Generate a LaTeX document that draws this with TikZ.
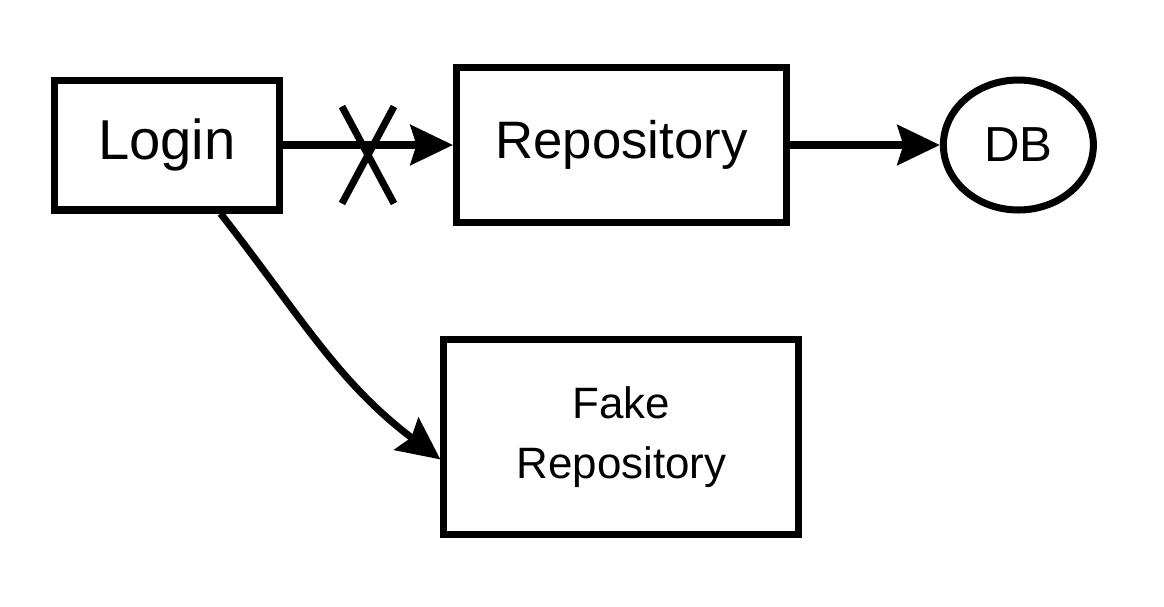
\documentclass[tikz,border=0pt]{standalone}
\usepackage{fontspec}
\setmainfont{Liberation Sans}
\usetikzlibrary{arrows,arrows.meta,positioning,shapes.geometric,shapes.misc}
\tikzset{node distance=3cm,
	box/.style={
		draw,
		line width=4pt,
		rectangle,
		align=center
	},
	dbnode/.style={
		draw,
		line width=4pt,
		ellipse,
		minimum width=3cm,
		minimum height=2.6cm,
		font=\fontsize{28}{34}\selectfont
	},
	every edge/.style={
		draw,
		->,>={Stealth[length=0.85cm,width=0.8cm,inset=0.12cm]},
		line width=4pt
	}
}

\begin{document}
\begin{tikzpicture}[x=0.02cm,y=-0.02cm,line width=4pt]
		\useasboundingbox (0,0) rectangle (1164,606);

		\node[box, minimum width=4.5cm, minimum height=2.6cm, font=\fontsize{32}{38}\selectfont] (login) at (167,145) {Login};
		\node[box, minimum width=6.6cm, minimum height=3.1cm, right=3.4cm of login, font=\fontsize{30}{36}\selectfont] (repo) {Repository};
		\node[dbnode, right=3cm of repo] (db) {DB};
		\node[box, minimum width=7.1cm, minimum height=3.9cm, below=2.2cm of repo, font=\fontsize{25}{34}\selectfont] (fake) {Fake\\Repository};

		% blocked call
		\draw (login) edge node[cross out, draw, line width=4pt, minimum width=0.9cm, minimum height=1.8cm, inner sep=0pt, yshift=-0.2cm]{} (repo);
		\draw (repo) edge (db);

		\draw (login.-52) edge[out=-52,in=143] ([yshift=-0.45cm]fake.west);

	\end{tikzpicture}
\end{document}
